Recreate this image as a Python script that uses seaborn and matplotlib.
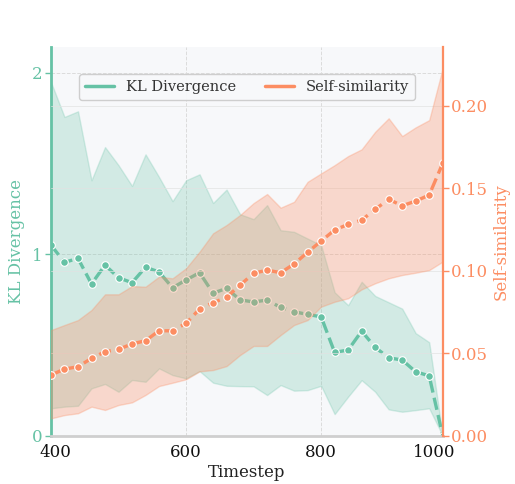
import matplotlib
matplotlib.use("Agg")
import matplotlib.pyplot as plt
from matplotlib.lines import Line2D
import seaborn as sns
import pandas as pd

# ---- data ----
timesteps = [400, 420, 440, 460, 480, 500, 520, 540, 560, 580,
             600, 620, 640, 660, 680, 700, 720, 740, 760, 780,
             800, 820, 840, 860, 880, 900, 920, 940, 960, 980]
kl_mean = [1.05, 0.955, 0.977, 0.836, 0.940, 0.870, 0.843, 0.928, 0.902, 0.815,
           0.858, 0.898, 0.785, 0.812, 0.748, 0.737, 0.747, 0.707, 0.683, 0.668,
           0.655, 0.459, 0.472, 0.576, 0.487, 0.429, 0.417, 0.352, 0.330, 0.0]
kl_upper = [1.948, 1.756, 1.787, 1.407, 1.590, 1.490, 1.376, 1.550, 1.425, 1.292,
            1.407, 1.440, 1.282, 1.356, 1.220, 1.193, 1.270, 1.132, 1.123, 1.086,
            1.050, 0.790, 0.719, 0.848, 0.770, 0.735, 0.700, 0.565, 0.515, 0.0]
kl_lower = [0.151, 0.160, 0.165, 0.261, 0.285, 0.242, 0.307, 0.297, 0.371, 0.334,
            0.316, 0.356, 0.292, 0.275, 0.273, 0.272, 0.224, 0.279, 0.248, 0.251,
            0.275, 0.119, 0.215, 0.306, 0.242, 0.145, 0.132, 0.141, 0.151, 0.0]
ss_mean = [0.0368, 0.0404, 0.0418, 0.0469, 0.0509, 0.0524, 0.0556, 0.0576, 0.0636, 0.0636,
           0.0681, 0.0768, 0.0806, 0.0839, 0.0913, 0.0984, 0.1004, 0.0988, 0.1041, 0.1112,
           0.1180, 0.1247, 0.1281, 0.1307, 0.1372, 0.1433, 0.1394, 0.1422, 0.1459, 0.1651]
ss_upper = [0.0640, 0.0671, 0.0701, 0.0762, 0.0857, 0.0857, 0.0907, 0.0903, 0.0964, 0.0954,
            0.1015, 0.1115, 0.1227, 0.1277, 0.1338, 0.1410, 0.1465, 0.1382, 0.1418, 0.1539,
            0.1590, 0.1640, 0.1695, 0.1736, 0.1842, 0.1924, 0.1816, 0.1869, 0.1913, 0.2227]
ss_lower = [0.0105, 0.0125, 0.0136, 0.0176, 0.0156, 0.0186, 0.0202, 0.0247, 0.0301, 0.0321,
            0.0342, 0.0390, 0.0398, 0.0422, 0.0489, 0.0544, 0.0544, 0.0610, 0.0671, 0.0701,
            0.0782, 0.0812, 0.0833, 0.0887, 0.0924, 0.0954, 0.0974, 0.0988, 0.1004, 0.1055]
x_tick_pos = [406, 600, 800, 968]
x_tick_labels = ["400", "600", "800", "1000"]
kl_ticks = [0, 1, 2]
ss_ticks = [0.00, 0.05, 0.10, 0.15, 0.20]

df = pd.DataFrame({"t": timesteps, "kl": kl_mean, "ss": ss_mean})

GREEN = "#66c2a5"
ORANGE = "#fc8d62"

sns.set_theme(style="whitegrid")
plt.rcParams["font.family"] = ["DejaVu Serif"]
plt.rcParams["axes.facecolor"] = "#f7f8fa"

fig = plt.figure(figsize=(5.15, 4.84), dpi=100)
ax1 = fig.add_axes([0.099, 0.0998, 0.7606, 0.8037])
ax1.set_facecolor("#f7f8fa")
ax2 = ax1.twinx()

# KL divergence on left axis
ax1.fill_between(timesteps, kl_lower, kl_upper, color=GREEN, alpha=0.25, lw=1)
sns.lineplot(data=df, x="t", y="kl", ax=ax1, color=GREEN, linestyle="--", lw=2.4,
             marker="o", markersize=5.5, markeredgecolor="white", markeredgewidth=0.8)

# Self-similarity on right axis
ax2.fill_between(timesteps, ss_lower, ss_upper, color=ORANGE, alpha=0.3, lw=1)
sns.lineplot(data=df, x="t", y="ss", ax=ax2, color=ORANGE, linestyle="--", lw=2.4,
             marker="o", markersize=5.5, markeredgecolor="white", markeredgewidth=0.8)

ax1.set_xlim(400, 980)
ax1.set_ylim(0, 2.143)
ax2.set_ylim(0, 0.2358)

ax1.set_xticks(x_tick_pos)
ax1.set_xticklabels(x_tick_labels)
ax1.set_yticks(kl_ticks)
ax2.set_yticks(ss_ticks)
ax2.set_yticklabels([f"{v:.2f}" for v in ss_ticks])

ax1.set_xlabel("Timestep", fontsize=12, color="#222222", labelpad=2)
ax1.set_ylabel("KL Divergence", fontsize=12, color=GREEN, labelpad=5)
ax2.set_ylabel("Self-similarity", fontsize=12, color=ORANGE, labelpad=3)

ax1.tick_params(axis="x", labelsize=12, colors="#111111", length=0, pad=6)
ax1.tick_params(axis="y", labelsize=12, colors=GREEN, length=4, width=1, pad=2)
ax2.tick_params(axis="y", labelsize=12, colors=ORANGE, length=4, width=1, pad=2)

# grids
ax1.grid(True, axis="both", linestyle="--", color="#dcdcdc", lw=0.7)
ax2.grid(True, axis="y", linestyle="-", color="#e2e2e2", lw=0.7, alpha=0.7)
ax1.get_xgridlines()[0].set_visible(False)
ax1.get_xgridlines()[-1].set_visible(False)

# spines
for s in ["top", "right"]:
    ax1.spines[s].set_visible(False)
ax1.spines["left"].set_color(GREEN)
ax1.spines["left"].set_linewidth(2)
ax1.spines["bottom"].set_color("#cfcfcf")
ax1.spines["bottom"].set_linewidth(2)
for s in ["top", "left", "bottom"]:
    ax2.spines[s].set_visible(False)
ax2.spines["right"].set_color(ORANGE)
ax2.spines["right"].set_linewidth(1.6)

handles = [Line2D([], [], color=GREEN, lw=2.5), Line2D([], [], color=ORANGE, lw=2.5)]
leg = ax2.legend(handles, ["KL Divergence", "Self-similarity"], loc="upper center",
                 bbox_to_anchor=(0.5, 0.93), borderaxespad=0, ncol=2, fontsize=10.5,
                 frameon=True, fancybox=True, framealpha=0.95, edgecolor="#cccccc")
for txt in leg.get_texts():
    txt.set_color("#333333")

fig.savefig("out.png", dpi=100)
